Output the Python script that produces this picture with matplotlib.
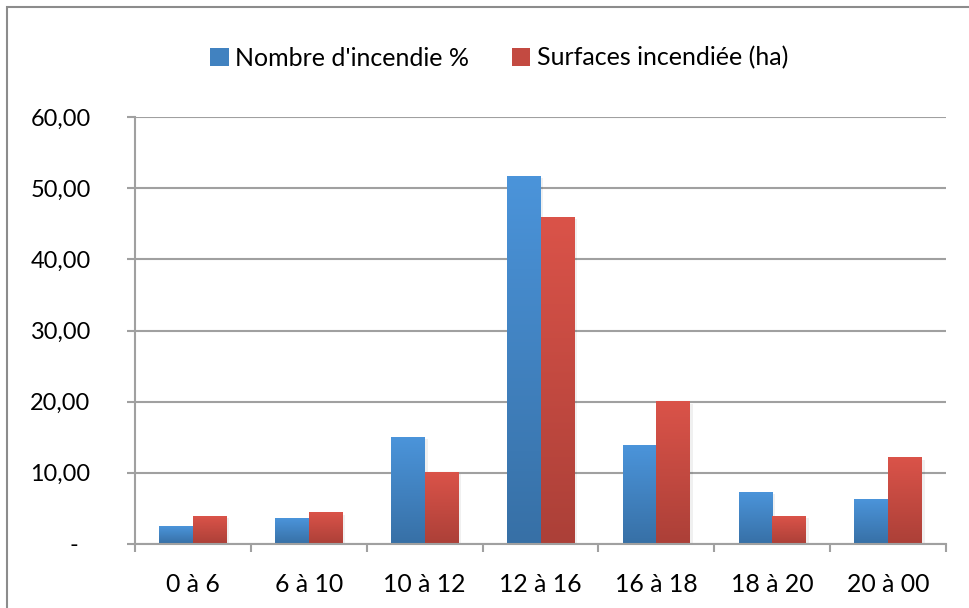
import numpy as np
import matplotlib
matplotlib.use("Agg")
import matplotlib.pyplot as plt
from matplotlib.patches import Rectangle, Patch
from matplotlib.transforms import ScaledTranslation

categories = ['0 à 6', '6 à 10', '10 à 12', '12 à 16', '16 à 18', '18 à 20', '20 à 00']
nombre = [2.5, 3.6, 15.0, 51.7, 13.9, 7.3, 6.2]
surfaces = [3.9, 4.4, 10.1, 45.9, 20.0, 3.9, 12.1]
series_names = ["Nombre d'incendie %", "Surfaces incendiée (ha)"]
y_ticks = [0, 10, 20, 30, 40, 50, 60]

plt.rcParams['font.family'] = ['Lato', 'DejaVu Sans']
FS = 16.9
GRAY = '#a0a0a0'

blue_top, blue_bot = np.array([75, 148, 218]) / 255, np.array([55, 112, 166]) / 255
red_top, red_bot = np.array([218, 83, 73]) / 255, np.array([172, 64, 56]) / 255


def grad_bar(ax, x, w, h, top, bot):
    t = np.linspace(0, 1, 64)[:, None]
    img = (top[None, :] * (1 - t) + bot[None, :] * t)[:, None, :]
    # soft shadow
    ax.add_patch(Rectangle((x - w / 2 + 0.025, -0.4), w, h + 0.1, color='black', alpha=0.06,
                           lw=0, zorder=2))
    ax.imshow(img, extent=[x - w / 2, x + w / 2, 0, h], aspect='auto', zorder=3,
              interpolation='bilinear', origin='upper')


fig = plt.figure(figsize=(9.69, 6.08), dpi=100)
ax = fig.add_axes([135 / 969, 1 - 544 / 608, 811 / 969, 427 / 608])

w = 0.29
for i in range(len(categories)):
    grad_bar(ax, i - w / 2, w, nombre[i], blue_top, blue_bot)
    grad_bar(ax, i + w / 2, w, surfaces[i], red_top, red_bot)

ax.set_xlim(-0.5, len(categories) - 0.5)
ax.set_ylim(0, 60)

ax.set_yticks(y_ticks)
ax.set_yticklabels(['-'] + ['%d,00' % v for v in y_ticks[1:]], fontsize=FS)
ax.set_xticks(range(len(categories)))
ax.set_xticklabels(categories, fontsize=17.8)
ax.set_xticks(np.arange(-0.5, len(categories), 1), minor=True)

ax.tick_params(axis='y', length=6, width=1.5, color=GRAY, pad=26)
ax.tick_params(axis='x', which='major', length=0, pad=21)
ax.tick_params(axis='x', which='minor', length=6, width=1.5, color=GRAY)

ax.yaxis.grid(True, color=GRAY, lw=1.5)
ax.set_axisbelow(True)
for s in ['top', 'right']:
    ax.spines[s].set_visible(False)
for s in ['left', 'bottom']:
    ax.spines[s].set_color(GRAY)
    ax.spines[s].set_linewidth(1.5)
    ax.spines[s].set_zorder(4)

# "-" label for zero sits further left (accounting format)
lab0 = ax.get_yticklabels()[0]
lab0.set_transform(lab0.get_transform() + ScaledTranslation(-0.12, 0, fig.dpi_scale_trans))

handles = [Patch(facecolor=(blue_top + blue_bot) / 2, edgecolor='none'),
           Patch(facecolor=(red_top + red_bot) / 2, edgecolor='none')]
fig.legend(handles, series_names, loc='center', bbox_to_anchor=(499 / 969, 1 - 58 / 608),
           ncol=2, frameon=False, fontsize=18, handlelength=0.75, handleheight=0.75,
           handletextpad=0.25, columnspacing=1.7)

fig.add_artist(Rectangle((7 / 969, -0.1), 1.2, 1.1 - 7 / 608, transform=fig.transFigure,
                         fill=False, edgecolor='#8c8c8c', lw=1.5))

fig.savefig('out.png', dpi=100, facecolor='white')
